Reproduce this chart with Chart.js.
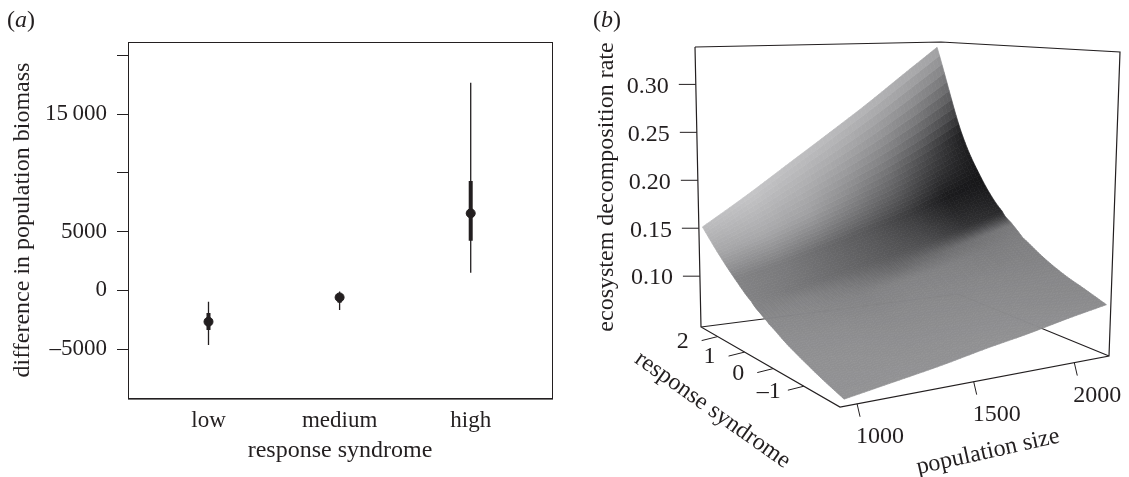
<!DOCTYPE html>
<html>
<head>
<meta charset="utf-8">
<script src="https://cdn.jsdelivr.net/npm/chart.js@4/dist/chart.umd.min.js"></script>
<style>
  html, body { margin: 0; padding: 0; background: #fff; }
  #page { position: relative; width: 1129px; height: 477px; overflow: hidden; }
  canvas { position: absolute; top: 0; }
  #chartA { left: 0; }
  #chartB { left: 570px; }
  .tag { position: absolute; top: 6px; font: 24px "Liberation Serif", serif; color: #231f20; }
</style>
</head>
<body>
<div id="page">
  <canvas id="chartA" width="570" height="477"></canvas>
  <canvas id="chartB" width="559" height="477"></canvas>
  <div class="tag" style="left:7px">(<i>a</i>)</div>
  <div class="tag" style="left:593px">(<i>b</i>)</div>
</div>
<script>
const INK = '#231f20';
const SERIF = '"Liberation Serif", serif';

// (a) response syndrome vs biomass difference
const categories = ['low', 'medium', 'high'];
const medians = [-2675, -600, 6560];
const outerLow = [-4660, -1680, 1500];
const outerHigh = [-970, -100, 17680];
const innerLow = [-3380, -1050, 4225];
const innerHigh = [-1935, -300, 9310];
const biomassTicks = [-5000, 0, 5000, 10000, 15000, 20000];
const biomassLabels = ['\u20135000', '0', '5000', '', '15\u2009000', ''];

// (b) surface: rows run front to back (response syndrome), columns population size
const popTicks = [1000, 1500, 2000];
const respTicks = [-1, 0, 1, 2];
const rateTicks = [0.10, 0.15, 0.20, 0.25, 0.30];
const surfacePop = [948, 1151, 1354, 1556, 1759, 1962, 2165];
const surfaceResp = [-2.1, -1.506, -0.913, -0.319, 0.275, 0.572, 0.869, 1.463, 2.056, 2.65];
const surfaceRate = [
  [.053, .060, .067, .075, .082, .090, .097],
  [.059, .067, .074, .082, .089, .097, .105],
  [.066, .074, .082, .090, .097, .105, .113],
  [.074, .082, .090, .098, .106, .115, .124],
  [.084, .092, .100, .109, .118, .128, .138],
  [.090, .099, .108, .117, .127, .138, .149],
  [.097, .106, .116, .126, .136, .148, .160],
  [.112, .123, .135, .148, .160, .175, .190],
  [.130, .146, .163, .180, .198, .218, .240],
  [.151, .181, .212, .242, .272, .303, .333]
];
const surfaceGrey = [
  [146, 146, 145, 145, 144, 142, 140],
  [145, 144, 143, 142, 141, 138, 136],
  [144, 143, 140, 139, 138, 136, 134],
  [142, 140, 136, 136, 134, 132, 130],
  [138, 134, 130, 130, 128, 124, 126],
  [132, 130, 118, 106, 108, 112, 120],
  [130, 118, 104, 90, 78, 52, 42],
  [130, 122, 104, 86, 60, 26, 22],
  [165, 168, 160, 138, 112, 76, 32],
  [188, 198, 192, 188, 182, 176, 168]
];

// ---- panel a ----
const boxPlugin = {
  id: 'box',
  afterDraw(chart) {
    const { ctx, chartArea: a } = chart;
    ctx.save();
    ctx.strokeStyle = INK;
    ctx.lineWidth = 1;
    ctx.strokeRect(a.left + 0.5, a.top + 0.5, a.right - a.left, a.bottom - a.top);
    ctx.strokeStyle = '#777';
    ctx.beginPath();
    ctx.moveTo(a.left, a.bottom + 1.5);
    ctx.lineTo(a.right + 1, a.bottom + 1.5);
    ctx.stroke();
    ctx.restore();
  }
};

function intervals(lo, hi) {
  const pts = [];
  categories.forEach((c, i) => {
    pts.push({ x: i + 1, y: lo[i] }, { x: i + 1, y: hi[i] }, { x: NaN, y: NaN });
  });
  return pts;
}

new Chart(document.getElementById('chartA'), {
  type: 'scatter',
  plugins: [boxPlugin],
  data: {
    datasets: [
      { data: intervals(outerLow, outerHigh), showLine: true, borderColor: INK, borderWidth: 1.3, pointRadius: 0 },
      { data: intervals(innerLow, innerHigh), showLine: true, borderColor: INK, borderWidth: 4, pointRadius: 0 },
      { data: medians.map((m, i) => ({ x: i + 1, y: m })), pointRadius: 4.5, backgroundColor: INK, borderColor: INK }
    ]
  },
  options: {
    responsive: false,
    animation: false,
    layout: { padding: { top: 42, right: 18, left: 0, bottom: 0 } },
    plugins: { legend: { display: false }, tooltip: { enabled: false } },
    scales: {
      x: {
        type: 'linear',
        min: 0.386,
        max: 3.62,
        afterBuildTicks(s) { s.ticks = categories.map((c, i) => ({ value: i + 1 })); },
        afterFit(s) { s.height = 79; },
        grid: { display: false },
        border: { display: false },
        ticks: {
          autoSkip: false, maxRotation: 0, padding: 1, color: INK,
          font: { family: SERIF, size: 23 },
          callback: v => categories[v - 1]
        },
        title: { display: true, text: 'response syndrome', color: INK, padding: { top: 1, bottom: 12 }, font: { family: SERIF, size: 24 } }
      },
      y: {
        min: -9170,
        max: 21150,
        afterBuildTicks(s) { s.ticks = biomassTicks.map(v => ({ value: v })); },
        afterFit(s) { s.width = 128; },
        grid: { drawOnChartArea: false, tickLength: 11, tickColor: INK, tickWidth: 1 },
        border: { display: false },
        ticks: {
          autoSkip: false, padding: 10, color: INK,
          font: { family: SERIF, size: 23 },
          callback: v => biomassLabels[biomassTicks.indexOf(v)]
        },
        title: { display: true, text: 'difference in population biomass', color: INK, padding: { top: 8.6, bottom: 0 }, font: { family: SERIF, size: 24 } }
      }
    }
  }
});

// ---- panel b ----
// box corners in page pixels, corners go front, right, back, left
const floorQuad = [[840, 407], [1109, 356], [958, 294], [701, 327]];
const roofQuad = [[852, 60], [1120, 52], [941, 42], [695, 47]];
const popRange = [933, 2190];
const respRange = [-2.1, 2.65];
const rateRange = [0.047, 0.339];

function homography(q) {
  const [[x0, y0], [x1, y1], [x2, y2], [x3, y3]] = q;
  const dx1 = x1 - x2, dx2 = x3 - x2, dx3 = x0 - x1 + x2 - x3;
  const dy1 = y1 - y2, dy2 = y3 - y2, dy3 = y0 - y1 + y2 - y3;
  const den = dx1 * dy2 - dx2 * dy1;
  const g = (dx3 * dy2 - dx2 * dy3) / den, h = (dx1 * dy3 - dx3 * dy1) / den;
  const a = x1 - x0 + g * x1, b = x3 - x0 + h * x3, d = y1 - y0 + g * y1, e = y3 - y0 + h * y3;
  return (u, v) => {
    const w = g * u + h * v + 1;
    return [(a * u + b * v + x0) / w, (d * u + e * v + y0) / w];
  };
}
const floorH = homography(floorQuad), roofH = homography(roofQuad);

function project(pop, resp, rate) {
  const u = (pop - popRange[0]) / (popRange[1] - popRange[0]);
  const v = (resp - respRange[0]) / (respRange[1] - respRange[0]);
  const w = (rate - rateRange[0]) / (rateRange[1] - rateRange[0]);
  const f = floorH(u, v), r = roofH(u, v);
  return { x: f[0] + (r[0] - f[0]) * w, y: f[1] + (r[1] - f[1]) * w };
}

const [p0, p1] = popRange, [r0, r1] = respRange, [z0, z1] = rateRange;
const gap = { x: NaN, y: NaN };
const boxLines = [
  project(p0, r1, z1), project(p1, r1, z1), project(p1, r0, z1), project(p1, r0, z0), project(p0, r0, z0), project(p0, r1, z0), project(p0, r1, z1), gap,
  project(p0, r1, z0), project(p1, r1, z0), project(p1, r0, z0)
];
const tickLines = [];
const tickText = [];
const shift = (p, dx, dy) => ({ x: p.x + dx, y: p.y + dy });
rateTicks.forEach(t => {
  const p = project(p0, r1, t);
  tickLines.push(p, shift(p, -17, 0), gap);
  tickText.push({ at: shift(p, -48, 2), text: t.toFixed(2) });
});
popTicks.forEach(t => {
  const p = project(t, r0, z0);
  tickLines.push(p, shift(p, 3, 13), gap);
  tickText.push({ at: shift(p, 23, 33), text: String(t) });
});
respTicks.forEach(t => {
  const p = project(p0, t, z0);
  tickLines.push(p, shift(p, -16, 4), gap);
  tickText.push({ at: shift(p, -35, 5), text: t < 0 ? '\u2013' + (-t) : String(t) });
});

function catmull(a, b, c, d, t) {
  return b + 0.5 * t * (c - a + t * (2 * a - 5 * b + 4 * c - d + t * (3 * (b - c) + d - a)));
}
// heights: smooth along rows and columns, past the rim the neighbours carry on straight
function rateAt(i, j) {
  const grid = surfaceRate, nr = grid.length, nc = grid[0].length;
  const i0 = Math.min(Math.floor(i), nr - 2), j0 = Math.min(Math.floor(j), nc - 2);
  const rowAt = r => {
    const g = grid[r];
    const at = k => k < 0 ? 2 * g[0] - g[1] : k >= nc ? 2 * g[nc - 1] - g[nc - 2] : g[k];
    return catmull(at(j0 - 1), at(j0), at(j0 + 1), at(j0 + 2), j - j0);
  };
  const r = k => k < 0 ? 2 * rowAt(0) - rowAt(1) : k >= nr ? 2 * rowAt(nr - 1) - rowAt(nr - 2) : rowAt(k);
  return catmull(r(i0 - 1), r(i0), r(i0 + 1), r(i0 + 2), i - i0);
}
function greyAt(i, j) {
  const nr = surfaceGrey.length, nc = surfaceGrey[0].length;
  const i0 = Math.min(Math.floor(i), nr - 2), j0 = Math.min(Math.floor(j), nc - 2);
  const a = i - i0, b = j - j0, g = surfaceGrey;
  return (g[i0][j0] * (1 - b) + g[i0][j0 + 1] * b) * (1 - a) + (g[i0 + 1][j0] * (1 - b) + g[i0 + 1][j0 + 1] * b) * a;
}
function axisAt(arr, t) {
  const i = Math.min(Math.floor(t), arr.length - 2);
  return arr[i] + (arr[i + 1] - arr[i]) * (t - i);
}

const surfacePlugin = {
  id: 'surface',
  afterDatasetsDraw(chart) {
    const { ctx, scales: { x, y } } = chart;
    const px = p => [x.getPixelForValue(p.x), y.getPixelForValue(p.y)];
    const sub = 10;
    const nR = (surfaceResp.length - 1) * sub, nC = (surfacePop.length - 1) * sub;
    const vertex = (ri, ci) => {
      const i = ri / sub, j = ci / sub;
      return px(project(axisAt(surfacePop, j), axisAt(surfaceResp, i), rateAt(i, j)));
    };
    ctx.save();
    ctx.lineWidth = 0.7;
    for (let ri = 0; ri < nR; ri++) {
      for (let ci = 0; ci < nC; ci++) {
        const g = Math.round(greyAt((ri + 0.5) / sub, (ci + 0.5) / sub));
        const col = `rgb(${g},${g},${g + 2})`;
        const a = vertex(ri, ci), b = vertex(ri, ci + 1), c = vertex(ri + 1, ci + 1), d = vertex(ri + 1, ci);
        ctx.beginPath();
        ctx.moveTo(a[0], a[1]); ctx.lineTo(b[0], b[1]); ctx.lineTo(c[0], c[1]); ctx.lineTo(d[0], d[1]);
        ctx.closePath();
        ctx.fillStyle = col;
        ctx.strokeStyle = col;
        ctx.fill();
        ctx.stroke();
      }
    }
    // labels
    ctx.fillStyle = INK;
    ctx.font = `24px ${SERIF}`;
    ctx.textAlign = 'center';
    ctx.textBaseline = 'middle';
    tickText.forEach(t => {
      const p = px(t.at);
      ctx.fillText(t.text, p[0], p[1]);
    });
    const rotated = (text, cx, cy, deg) => {
      ctx.save();
      ctx.translate(x.getPixelForValue(cx), y.getPixelForValue(cy));
      ctx.rotate(deg * Math.PI / 180);
      ctx.fillText(text, 0, 0);
      ctx.restore();
    };
    rotated('ecosystem decomposition rate', 607, 187, -90);
    rotated('population size', 988, 452, -12.6);
    rotated('response syndrome', 712.5, 410, 35.4);
    ctx.restore();
  }
};

new Chart(document.getElementById('chartB'), {
  type: 'scatter',
  plugins: [surfacePlugin],
  data: {
    datasets: [
      { data: boxLines, showLine: true, borderColor: INK, borderWidth: 1.2, pointRadius: 0 },
      { data: tickLines, showLine: true, borderColor: INK, borderWidth: 1, pointRadius: 0 }
    ]
  },
  options: {
    responsive: false,
    animation: false,
    layout: { padding: 0 },
    plugins: { legend: { display: false }, tooltip: { enabled: false } },
    scales: {
      x: { type: 'linear', min: 570, max: 1129, display: false },
      y: { type: 'linear', min: 0, max: 477, reverse: true, display: false }
    }
  }
});
</script>
</body>
</html>
